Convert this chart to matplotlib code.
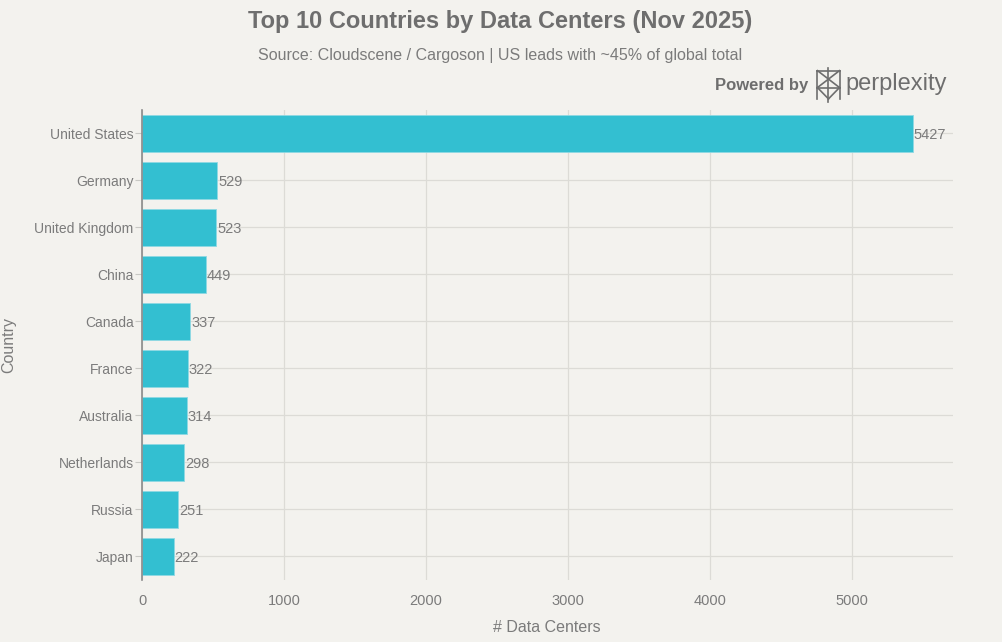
import matplotlib
matplotlib.use("Agg")
import matplotlib.pyplot as plt
from matplotlib.lines import Line2D

countries = ["United States", "Germany", "United Kingdom", "China", "Canada",
             "France", "Australia", "Netherlands", "Russia", "Japan"]
data_centers = [5427, 529, 523, 449, 337, 322, 314, 298, 251, 222]
x_ticks = [0, 1000, 2000, 3000, 4000, 5000]

BG = "#f3f2ee"
BAR = "#33bfd1"
TXT = "#7b7b7b"
GRID = "#dcdbd6"

plt.rcParams["font.family"] = ["Liberation Sans", "DejaVu Sans"]

fig = plt.figure(figsize=(10.03, 6.42), dpi=100, facecolor=BG)
ax = fig.add_axes([0.1416, 0.0966, 0.8084, 0.7321], facecolor=BG)

ypos = list(range(len(countries)))
ax.barh(ypos, data_centers, height=0.8, color=BAR, edgecolor="#8fd9e3",
        linewidth=0.6, zorder=3)
for y, v in zip(ypos, data_centers):
    ax.text(v + 8, y, str(v), va="center_baseline", ha="left", fontsize=10.5,
            color=TXT, zorder=4)

ax.set_ylim(len(countries) - 0.5, -0.5)
ax.set_xlim(0, 5711)
ax.set_yticks(ypos)
ax.set_yticklabels(countries)
ax.set_xticks(x_ticks)
ax.tick_params(axis="y", colors=TXT, labelsize=10, length=5, width=0.8,
               color="#c8c8c4", pad=1)
ax.tick_params(axis="x", colors=TXT, labelsize=10.5, length=0, pad=10)
ax.grid(True, color=GRID, linewidth=0.9, zorder=0)
for side in ["top", "right", "bottom"]:
    ax.spines[side].set_visible(False)
ax.spines["left"].set_color("#8a8a8a")
ax.spines["left"].set_linewidth(1.2)
ax.spines["left"].set_zorder(5)

fig.text(0.001, 0.462, "Country", rotation=90, ha="left", va="center",
         fontsize=11.5, color=TXT)
fig.text(0.545, 0.022, "# Data Centers", ha="center", va="center",
         fontsize=11.5, color=TXT)

fig.text(0.499, 0.966, "Top 10 Countries by Data Centers (Nov 2025)",
         ha="center", va="center", fontsize=17, color="#6e6e6e",
         fontweight="bold")
fig.text(0.499, 0.914, "Source: Cloudscene / Cargoson | US leads with ~45% of global total",
         ha="center", va="center", fontsize=11.5, color=TXT)

# "Powered by perplexity" badge
fig.text(0.806, 0.867, "Powered by", ha="right", va="center", fontsize=12,
         color="#6e6e6e", fontweight="bold")
fig.text(0.843, 0.869, "perplexity", ha="left", va="center", fontsize=17,
         color="#6e6e6e")
cx, cy, w, h = 0.826, 0.868, 0.011, 0.022
logo = [
    ([cx - w, cx + w], [cy + h, cy + h]), ([cx - w, cx + w], [cy - h * 0.2, cy - h * 0.2]),
    ([cx, cx], [cy + h * 1.2, cy - h * 1.2]),
    ([cx - w, cx - w], [cy + h, cy - h]), ([cx + w, cx + w], [cy + h, cy - h]),
    ([cx - w, cx + w], [cy + h, cy - h * 0.2]), ([cx + w, cx - w], [cy + h, cy - h * 0.2]),
    ([cx - w, cx], [cy - h * 0.2, cy - h]), ([cx + w, cx], [cy - h * 0.2, cy - h]),
]
for xs, ys in logo:
    fig.add_artist(Line2D(xs, ys, transform=fig.transFigure, color="#6e6e6e",
                          linewidth=1.2))

fig.savefig("out.png", dpi=100, facecolor=BG)
